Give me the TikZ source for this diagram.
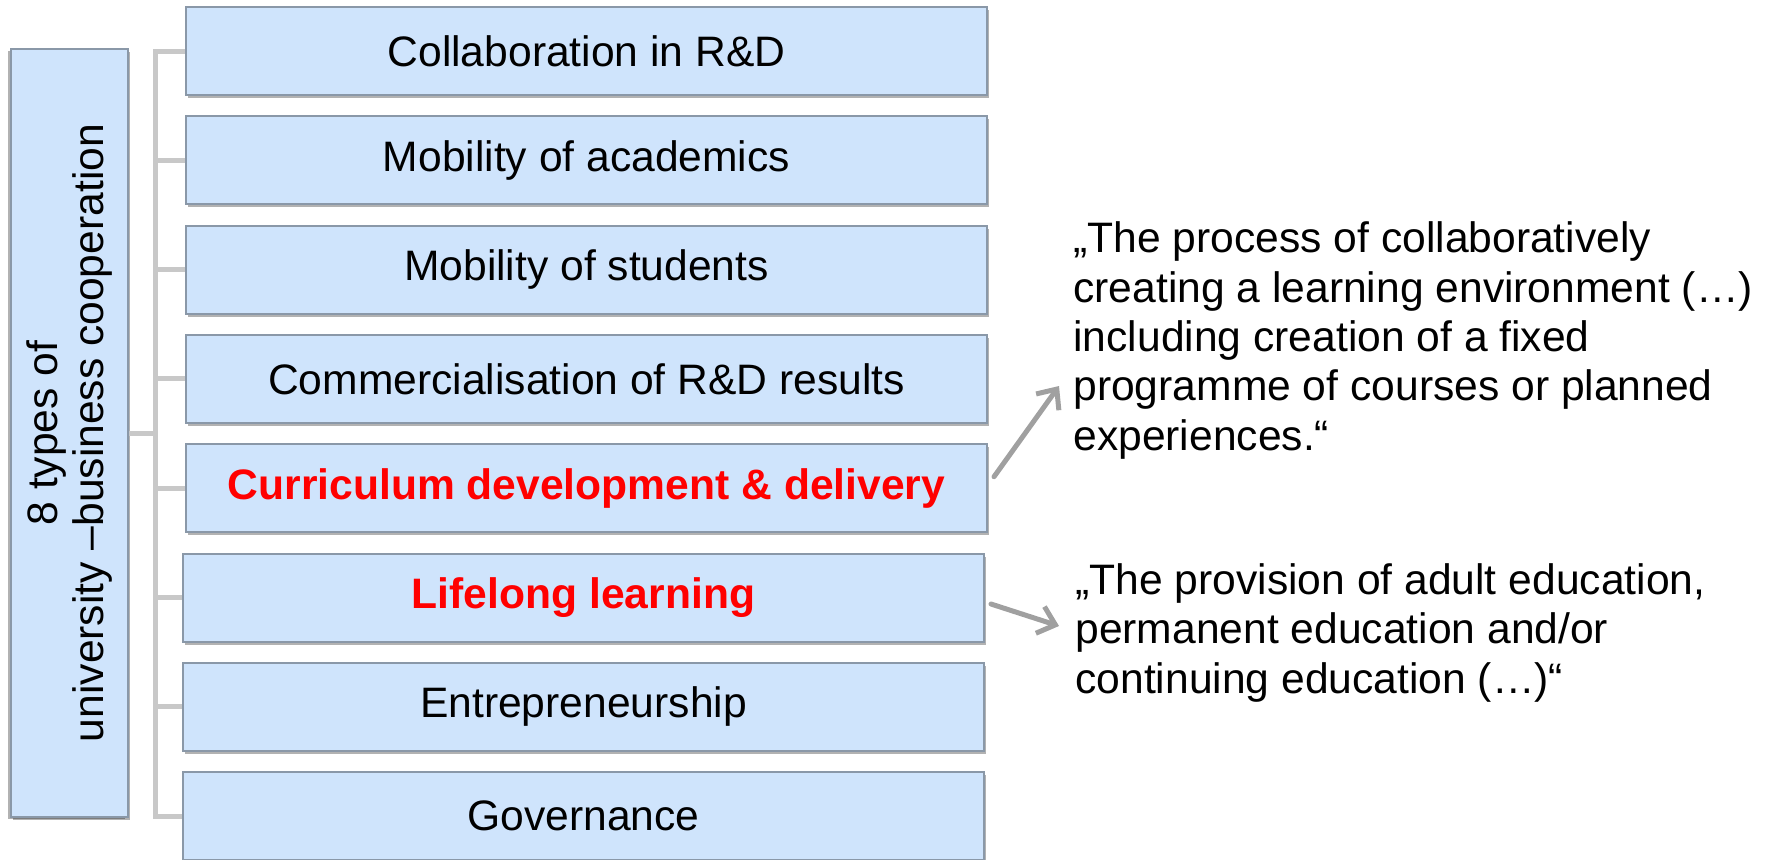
\documentclass[tikz,border=0pt]{standalone}
\usepackage{fontspec}
\setmainfont{Liberation Sans}
\usetikzlibrary{arrows.meta,shadows}

\definecolor{boxfill}{RGB}{207,228,252}
\definecolor{boxline}{RGB}{138,152,168}
\definecolor{treeline}{RGB}{200,200,200}
\definecolor{arrowgray}{RGB}{160,160,160}

\begin{document}
\begin{tikzpicture}[x=0.5pt, y=-0.5pt, node distance=54.65pt]
    \tikzstyle{kind} = [shape=rectangle, draw=boxline, fill=boxfill, line width=1pt, minimum width=400.5pt, minimum height=44pt, inner sep=0pt, font=\fontsize{21.3}{24}\selectfont, drop shadow={shadow xshift=1pt, shadow yshift=-1.5pt, opacity=0.3, fill=black}]
    \tikzstyle{focus} = [kind, text=red, font=\fontsize{21.3}{24}\selectfont\bfseries]
    \tikzstyle{branch} = [draw=treeline, line width=2.5pt]
    \tikzstyle{pointer} = [draw=arrowgray, line width=2.5pt, line cap=round, -{Straight Barb[length=8pt, width=14pt]}]
    \tikzstyle{quote} = [anchor=north west, inner sep=0pt, align=left, font=\fontsize{21.3}{24.7}\selectfont]

    \useasboundingbox (0,0) rectangle (1770,859);

    \node (side) [kind, rotate=90, minimum width=384pt, minimum height=58.5pt, align=center, font=\fontsize{21.3}{23}\selectfont, drop shadow={shadow xshift=-1.5pt, shadow yshift=-1pt, opacity=0.3, fill=black}] at (69.5,433) {8 types of\\university –business cooperation};

    \node (c1) [kind] at (586.5,51) {Collaboration in R\&D};
    \node (c2) [kind] [below of = c1] {Mobility of academics};
    \node (c3) [kind] [below of = c2] {Mobility of students};
    \node (c4) [kind] [below of = c3] {Commercialisation of R\&D results};
    \node (c5) [focus] [below of = c4] {Curriculum development \& delivery};
    \node (c6) [focus] [below of = c5, xshift=-1.5pt] {Lifelong learning};
    \node (c7) [kind] [below of = c6] {Entrepreneurship};
    \node (c8) [kind] [below of = c7] {Governance};

    % tree on the left
    \coordinate (trunk) at (155,0);
    \draw[branch] (c1.west) -- (c1.west -| trunk) -- (c8.west -| trunk) -- (c8.west);
    \foreach \k in {2,...,7} \draw[branch] (c\k.west) -- (c\k.west -| trunk);
    \draw[branch] (side.south) -- (side.south -| trunk);

    \node (q1) [quote] at (1073,221.5) {„The process of collaboratively\\creating a learning environment (…)\\including creation of a fixed\\programme of courses or planned\\experiences.“};
    \node (q2) [quote] at (1075,563) {„The provision of adult education,\\permanent education and/or\\continuing education (…)“};

    \coordinate (tip1) at (1059,386);
    \coordinate (tip2) at (1059,626);
    \draw[pointer] ([shift={(3pt,5.75pt)}]c5.east) -- (tip1);
    \draw[pointer] ([shift={(3pt,-3.25pt)}]c6.east) -- (tip2);
\end{tikzpicture}
\end{document}
